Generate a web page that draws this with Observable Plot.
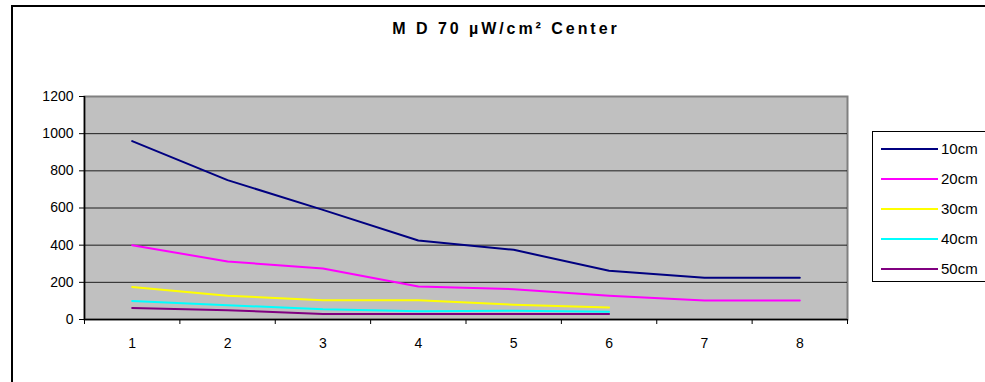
<!DOCTYPE html>
<html>
<head>
<meta charset="utf-8">
<script src="https://cdn.jsdelivr.net/npm/d3@7"></script>
<script src="https://cdn.jsdelivr.net/npm/@observablehq/plot@0.6"></script>
<style>
  html, body { margin: 0; padding: 0; background: #fff; overflow: hidden; }
  #wrap { position: relative; width: 985px; height: 382px; overflow: hidden; font-family: "Liberation Sans", Arial, sans-serif; }
  #border { position: absolute; left: 11px; top: 5px; width: 1000px; height: 420px; border: 2px solid #000; box-sizing: border-box; }
  #title { position: absolute; left: 12px; width: 988px; top: 20px; text-align: center; font-weight: bold; font-size: 16px; line-height: 18px; letter-spacing: 2.95px; color: #000; }
  #legend { position: absolute; left: 872px; top: 131px; width: 140px; height: 151px; border: 1px solid #000; box-sizing: border-box; background: #fff; }
  .item { position: absolute; left: 0; height: 20px; }
  .item .sw { position: absolute; left: 8px; width: 57px; height: 2px; top: 9px; }
  .item .lb { position: absolute; left: 68px; top: 1px; font-size: 15px; line-height: 18px; color: #000; }
  #chart { position: absolute; left: 0; top: 0; }
</style>
</head>
<body>
<div id="wrap">
  <div id="chart"></div>
  <div id="border"></div>
  <div id="title"></div>
  <div id="legend"></div>
</div>
<script>
const titleText = "M D 70 µW/cm² Center";
const categories = [1, 2, 3, 4, 5, 6, 7, 8];
const seriesNames = ["10cm", "20cm", "30cm", "40cm", "50cm"];
const seriesColors = ["#000080", "#FF00FF", "#FFFF00", "#00FFFF", "#800080"];
const s10 = [960, 750, 590, 425, 375, 262, 225, 225];
const s20 = [400, 312, 275, 178, 163, 128, 102, 102];
const s30 = [175, 128, 103, 103, 80, 65];
const s40 = [100, 77, 55, 45, 47, 42];
const s50 = [62, 50, 30, 30, 30, 30];
const yTicks = [0, 200, 400, 600, 800, 1000, 1200];

const allSeries = [s10, s20, s30, s40, s50];
const rows = [];
allSeries.forEach((vals, i) => {
  vals.forEach((v, j) => rows.push({series: seriesNames[i], x: categories[j], y: v}));
});
const boundaries = d3.range(0, categories.length + 1).map(i => i + 0.5);

document.getElementById("title").textContent = titleText;

const chart = Plot.plot({
  width: 985,
  height: 382,
  marginLeft: 84,
  marginRight: 138,
  marginTop: 96,
  marginBottom: 63,
  style: {fontFamily: "'Liberation Sans', Arial, sans-serif", fontSize: "14px", color: "#000", background: "transparent", overflow: "visible"},
  x: {type: "linear", domain: [0.5, categories.length + 0.5], axis: null, label: null},
  y: {domain: [0, 1200], axis: null, label: null},
  color: {domain: seriesNames, range: seriesColors},
  marks: [
    Plot.frame({fill: "#C0C0C0", stroke: "#808080", strokeWidth: 2}),
    Plot.gridY(yTicks.filter(d => d > 0 && d < 1200), {stroke: "#000", strokeOpacity: 0.85, strokeWidth: 1}),
    Plot.ruleY([0], {stroke: "#000", strokeWidth: 1.5}),
    Plot.ruleX([0.5], {stroke: "#000", strokeWidth: 1.5}),
    Plot.axisY({ticks: yTicks, tickSize: 5, tickPadding: 6, fontSize: 14, stroke: "#000", label: null, tickFormat: d => String(d)}),
    Plot.axisX({ticks: boundaries, tickSize: 5, tickFormat: () => "", stroke: "#000", label: null}),
    Plot.axisX({ticks: categories, tickSize: 0, tickPadding: 19, fontSize: 14, label: null, tickFormat: d => String(d)}),
    Plot.line(rows, {x: "x", y: "y", z: "series", stroke: "series", strokeWidth: 2})
  ]
});
document.getElementById("chart").appendChild(chart);

const legend = document.getElementById("legend");
seriesNames.forEach((name, i) => {
  const it = document.createElement("div");
  it.className = "item";
  it.style.top = (7 + i * 30) + "px";
  const sw = document.createElement("div");
  sw.className = "sw";
  sw.style.background = seriesColors[i];
  const lb = document.createElement("div");
  lb.className = "lb";
  lb.textContent = name;
  it.appendChild(sw);
  it.appendChild(lb);
  legend.appendChild(it);
});
</script>
</body>
</html>
